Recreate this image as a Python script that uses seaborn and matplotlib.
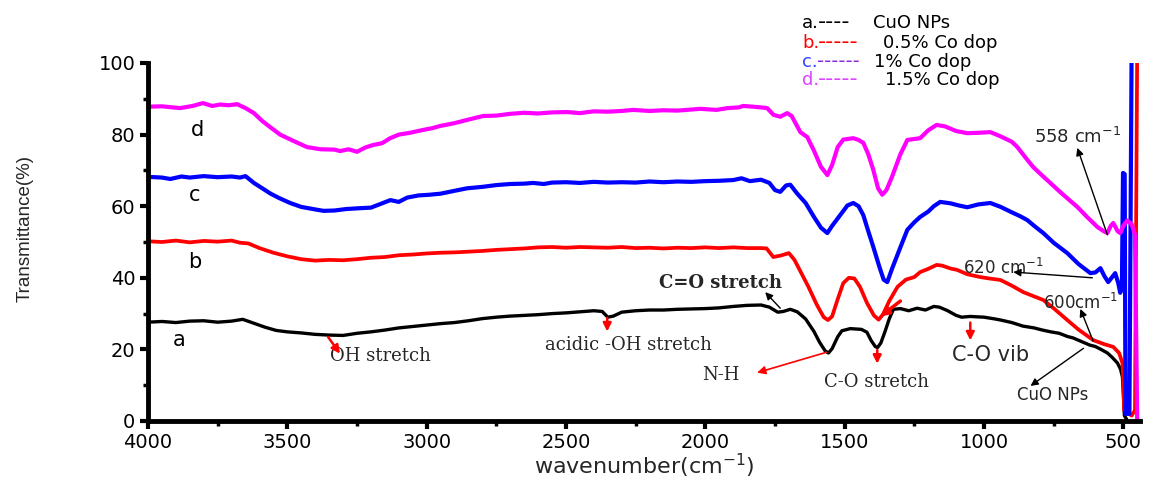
import numpy as np
import pandas as pd
import matplotlib
matplotlib.use("Agg")
import matplotlib.pyplot as plt
from matplotlib.ticker import MultipleLocator
import seaborn as sns

# ---- FTIR spectra: wavenumber (cm-1) and transmittance (%) ----
wn_a = [4000, 3950, 3900, 3850, 3800, 3750, 3700, 3660, 3620, 3580, 3540, 3500, 3450, 3400,
        3350, 3300, 3250, 3200, 3150, 3100, 3050, 3000, 2950, 2900, 2850, 2800, 2750, 2700,
        2650, 2600, 2550, 2500, 2450, 2400, 2370, 2350, 2330, 2300, 2250, 2200, 2150, 2100,
        2050, 2000, 1950, 1900, 1850, 1800, 1770, 1740, 1720, 1695, 1670, 1640, 1610, 1590,
        1570, 1558, 1545, 1525, 1510, 1480, 1440, 1420, 1405, 1390, 1382, 1370, 1355, 1340,
        1325, 1300, 1270, 1240, 1210, 1180, 1160, 1130, 1100, 1080, 1050, 1000, 960, 940,
        900, 860, 820, 790, 760, 730, 700, 680, 650, 620, 600, 580, 557, 540, 521, 510,
        503, 500, 496, 488]
tr_a = [27.6, 27.8, 27.5, 27.9, 28.0, 27.6, 27.9, 28.4, 27.3, 26.2, 25.3, 24.9, 24.6, 24.2,
        24.0, 23.9, 24.5, 24.9, 25.4, 26.0, 26.4, 26.8, 27.2, 27.5, 28.0, 28.6, 29.0, 29.3,
        29.5, 29.7, 30.0, 30.2, 30.5, 30.8, 30.6, 29.0, 29.3, 30.4, 30.8, 31.0, 31.0, 31.2,
        31.3, 31.4, 31.6, 32.0, 32.3, 32.4, 31.8, 30.4, 30.6, 31.2, 30.5, 28.5, 25.0, 22.0,
        19.6, 19.0, 20.2, 23.5, 25.2, 25.8, 25.6, 24.8, 22.5, 20.8, 20.5, 21.8, 25.0, 28.5,
        31.2, 31.4, 30.8, 31.5, 31.0, 32.0, 31.8, 30.8, 29.5, 29.0, 29.2, 29.0, 28.5, 28.2,
        27.5, 26.5, 26.0, 25.4, 24.9, 24.5, 23.6, 23.2, 22.2, 21.2, 20.8, 20.0, 19.0, 17.8,
        16.2, 14.5, 12.3, 7.8, 1.5, 0.5]

wn_b = [4000, 3950, 3900, 3850, 3800, 3750, 3700, 3670, 3640, 3600, 3550, 3500, 3450, 3400,
        3350, 3300, 3250, 3200, 3150, 3100, 3050, 3000, 2950, 2900, 2850, 2800, 2750, 2700,
        2650, 2600, 2550, 2500, 2450, 2400, 2350, 2300, 2250, 2200, 2150, 2100, 2050, 2000,
        1950, 1900, 1850, 1800, 1780, 1756, 1730, 1700, 1680, 1660, 1630, 1600, 1575, 1560,
        1545, 1525, 1505, 1485, 1465, 1445, 1420, 1395, 1378, 1362, 1340, 1310, 1280, 1250,
        1229, 1200, 1170, 1150, 1120, 1096, 1060, 1013, 980, 941, 900, 859, 820, 787, 750,
        701, 660, 608, 570, 536, 515, 503, 500, 497, 470, 458, 450]
tr_b = [50.2, 50.0, 50.4, 49.9, 50.3, 50.1, 50.4, 49.8, 49.6, 48.3, 47.0, 46.0, 45.2, 44.8,
        45.0, 44.9, 45.2, 45.6, 45.8, 46.3, 46.5, 46.8, 47.0, 47.1, 47.3, 47.5, 47.8, 48.0,
        48.2, 48.5, 48.6, 48.4, 48.6, 48.5, 48.4, 48.6, 48.3, 48.4, 48.2, 48.4, 48.3, 48.5,
        48.3, 48.5, 48.3, 48.3, 48.2, 45.8, 46.2, 46.9, 45.0, 42.0, 37.5, 32.5, 29.0, 28.2,
        29.2, 34.0, 38.5, 40.0, 39.8, 37.5, 33.0, 29.5, 28.3, 29.8, 33.5, 37.5, 39.5, 40.2,
        41.6, 42.5, 43.6, 43.4, 42.6, 42.2, 41.0, 40.2, 39.8, 39.4, 37.8, 36.0, 34.8, 33.8, 31.5,
        28.2, 25.5, 22.6, 21.5, 20.7, 19.0, 16.2, 12.0, 3.0, 1.5, 3.0, 105.0]

wn_c = [4000, 3950, 3920, 3880, 3850, 3800, 3750, 3700, 3670, 3650, 3620, 3590, 3560, 3530,
        3490, 3450, 3400, 3370, 3330, 3290, 3250, 3200, 3160, 3130, 3100, 3070, 3030, 2990,
        2950, 2900, 2855, 2800, 2750, 2700, 2650, 2618, 2580, 2550, 2500, 2450, 2400, 2350,
        2300, 2250, 2200, 2150, 2100, 2050, 2000, 1950, 1900, 1870, 1840, 1800, 1770, 1750,
        1731, 1710, 1695, 1670, 1640, 1610, 1585, 1562, 1545, 1516, 1490, 1469, 1450, 1433,
        1415, 1397, 1375, 1360, 1347, 1330, 1300, 1275, 1250, 1229, 1200, 1180, 1157, 1120,
        1090, 1060, 1020, 977, 940, 895, 870, 844, 815, 787, 750, 701, 660, 618, 600, 582,
        568, 554, 540, 529, 518, 511, 505, 501, 495, 492, 478, 470]
tr_c = [68.2, 68.0, 67.6, 68.3, 68.0, 68.4, 68.1, 68.3, 68.0, 68.4, 66.5, 65.0, 63.5, 62.3,
        60.9, 59.8, 59.1, 58.7, 58.8, 59.2, 59.4, 59.6, 60.8, 61.7, 61.2, 62.4, 63.0, 63.2,
        63.5, 64.3, 65.0, 65.4, 65.9, 66.2, 66.3, 66.5, 66.2, 66.6, 66.7, 66.5, 66.8, 66.6,
        66.7, 66.6, 66.9, 66.7, 66.9, 66.8, 67.0, 67.1, 67.3, 67.8, 67.0, 67.4, 66.5, 64.5,
        64.0, 65.8, 66.0, 63.5, 60.9, 57.0, 54.0, 52.5, 54.5, 57.5, 60.2, 60.9, 60.0, 57.5,
        53.0, 48.6, 43.0, 39.5, 38.8, 42.5, 48.5, 53.4, 55.5, 57.0, 58.5, 60.0, 61.2, 60.8,
        60.2, 59.7, 60.5, 60.9, 59.8, 58.1, 57.2, 56.1, 54.2, 52.5, 49.8, 46.9, 43.8, 41.3,
        41.5, 42.7, 40.5, 38.8, 40.2, 41.3, 38.5, 35.8, 37.0, 69.3, 69.0, 2.0, 2.0, 105.0]

wn_d = [4000, 3950, 3885, 3840, 3803, 3770, 3740, 3710, 3680, 3650, 3620, 3590, 3560, 3526,
        3480, 3429, 3380, 3330, 3311, 3280, 3250, 3220, 3192, 3160, 3131, 3100, 3060, 3013,
        2980, 2952, 2900, 2850, 2797, 2750, 2700, 2650, 2600, 2550, 2496, 2450, 2400, 2350,
        2300, 2259, 2200, 2150, 2100, 2050, 2018, 1960, 1920, 1880, 1864, 1830, 1800, 1778,
        1755, 1731, 1706, 1690, 1659, 1634, 1610, 1585, 1562, 1545, 1525, 1505, 1469, 1450,
        1433, 1415, 1397, 1380, 1365, 1350, 1330, 1300, 1275, 1229, 1200, 1170, 1140, 1100,
        1060, 1020, 977, 940, 900, 880, 850, 823, 790, 762, 720, 665, 630, 593, 570, 557,
        545, 536, 520, 511, 500, 486, 470, 458, 450]
tr_d = [87.8, 87.9, 87.4, 88.0, 88.8, 88.0, 88.4, 88.2, 88.5, 87.4, 86.0, 83.8, 82.0, 80.0,
        78.3, 76.5, 75.9, 75.8, 75.4, 75.9, 75.2, 76.4, 77.1, 77.6, 79.0, 80.0, 80.5, 81.3,
        81.8, 82.4, 83.2, 84.2, 85.2, 85.3, 85.8, 86.1, 85.9, 86.2, 86.3, 86.0, 86.5, 86.4,
        86.6, 86.9, 86.6, 86.8, 86.7, 87.0, 87.2, 86.9, 87.4, 87.6, 88.0, 87.8, 87.6, 87.4,
        85.5, 85.0, 86.0, 85.2, 80.7, 79.3, 75.5, 71.0, 68.7, 71.5, 76.5, 78.6, 79.0, 78.5,
        77.7, 74.5, 70.1, 65.0, 63.2, 64.5, 68.2, 74.5, 78.5, 79.0, 81.2, 82.7, 82.3, 81.0,
        80.4, 80.5, 80.7, 79.5, 78.0, 76.5, 73.5, 70.9, 68.5, 66.5, 63.5, 59.8, 57.0, 54.2,
        53.0, 52.5, 54.5, 55.3, 53.0, 52.5, 54.5, 56.0, 55.0, 52.0, 0.0]

x_ticks = [4000, 3500, 3000, 2500, 2000, 1500, 1000, 500]
y_ticks = [0, 20, 40, 60, 80, 100]

W, H = 1149, 479
sns.set_theme(style="ticks")
plt.rcParams["font.family"] = ["DejaVu Sans"]
plt.rcParams["mathtext.default"] = "regular"

fig = plt.figure(figsize=(W / 100, H / 100), dpi=100)
ax = fig.add_axes([148 / W, 1 - 421 / H, (1140 - 148) / W, (421 - 63) / H])

series = [
    (wn_a, tr_a, "black", 2.4),
    (wn_b, tr_b, "#ff0000", 2.7),
    (wn_c, tr_c, "#0000ff", 3.0),
    (wn_d, tr_d, "#ff00ff", 3.0),
]
for wn, tr, col, lw in series:
    df = pd.DataFrame({"wn": wn, "tr": tr})
    sns.lineplot(data=df, x="wn", y="tr", color=col, linewidth=lw, ax=ax,
                 estimator=None, sort=False)

ax.set_xlim(4000, 440)
ax.set_ylim(0, 100)
ax.set_xticks(x_ticks)
ax.set_yticks(y_ticks)
ax.xaxis.set_minor_locator(MultipleLocator(250))
ax.yaxis.set_minor_locator(MultipleLocator(10))
for s in ["top", "right"]:
    ax.spines[s].set_visible(False)
for s in ["left", "bottom"]:
    ax.spines[s].set_linewidth(3.5)
    ax.spines[s].set_color("black")
ax.tick_params(which="major", direction="out", length=6, width=3, labelsize=14,
               colors="black", pad=3)
ax.tick_params(which="minor", direction="out", length=3.5, width=2.5, colors="black")
ax.set_xlabel("wavenumber(cm$^{-1}$)", fontsize=16)
ax.xaxis.set_label_coords(0.5, (421 - 466) / (421 - 63))
ax.xaxis.label.set_va("center")
ax.set_ylabel("Transmittance(%)", fontsize=13.5, family="Liberation Sans")
ax.yaxis.set_label_coords((25 - 148) / (1140 - 148), (421 - 228) / (421 - 63))
ax.yaxis.label.set_va("center")

# curve letters
for lab, (x, y) in zip("abcd", [(3890, 22.6), (3831, 44.4), (3831, 63.0), (3822, 81.3)]):
    ax.text(x, y, lab, fontsize=15, ha="center", va="center", color="black")

serif = "DejaVu Serif"
red_arrow = dict(arrowstyle="-|>", color="red", lw=1.8, mutation_scale=12,
                 shrinkA=0, shrinkB=0)
blk_arrow = dict(arrowstyle="-|>", color="black", lw=1.0, mutation_scale=11,
                 shrinkA=0, shrinkB=0)

# band assignments
ax.text(3347, 18.2, "OH stretch", family=serif, fontsize=13, ha="left", va="center")
ax.annotate("", xy=(3311, 18.8), xytext=(3354, 23.5), arrowprops=red_arrow)

ax.text(2277, 21.2, "acidic -OH stretch", family=serif, fontsize=13, ha="center", va="center")
ax.annotate("", xy=(2352, 25.0), xytext=(2352, 28.8), arrowprops=red_arrow)

ax.text(1947, 38.5, "C=O stretch", family=serif, fontsize=13, weight="bold",
        ha="center", va="center")
ax.annotate("", xy=(1785, 36.0), xytext=(1731, 31.5), arrowprops=blk_arrow)

ax.text(1943, 12.8, "N-H", family=serif, fontsize=13, ha="center", va="center")
ax.annotate("", xy=(1814, 13.5), xytext=(1565, 19.2),
            arrowprops=dict(red_arrow, lw=1.2))

ax.text(1386, 10.9, "C-O stretch", family=serif, fontsize=13, ha="center", va="center")
ax.annotate("", xy=(1383, 16.0), xytext=(1383, 19.8), arrowprops=red_arrow)
ax.annotate("", xy=(1372, 29.2), xytext=(1300, 33.5), arrowprops=dict(red_arrow, lw=2.5))

ax.text(977, 18.4, "C-O vib", fontsize=15, ha="center", va="center")
ax.annotate("", xy=(1049, 22.5), xytext=(1049, 27.5), arrowprops=red_arrow)

ax.text(755, 7.3, "CuO NPs", fontsize=12, ha="center", va="center")
ax.annotate("", xy=(833, 9.8), xytext=(643, 20.3), arrowprops=blk_arrow)

ax.text(654, 33.0, "600cm$^{-1}$", fontsize=12, ha="center", va="center")
ax.annotate("", xy=(654, 31.3), xytext=(608, 22.3), arrowprops=blk_arrow)

ax.text(931, 42.7, "620 cm$^{-1}$", fontsize=12, ha="center", va="center")
ax.annotate("", xy=(895, 41.6), xytext=(611, 40.0), arrowprops=blk_arrow)

ax.text(665, 79.3, "558 cm$^{-1}$", fontsize=13, ha="center", va="center")
ax.annotate("", xy=(665, 76.3), xytext=(557, 52.0), arrowprops=blk_arrow)

# key in the top-right corner
def ftext(px, py, s, color, size=13):
    fig.text(px / W, 1 - py / H, s, color=color, fontsize=size, ha="left",
             va="baseline")

base = [28, 48, 67, 85]
ftext(802, base[0], "a.", "black")
ftext(818, base[0], "----", "black", 16)
ftext(873, base[0], "CuO NPs", "black")
ftext(802, base[1], "b.", "#ff0000")
ftext(818, base[1], "-----", "#ff0000", 16)
ftext(883, base[1], "0.5% Co dop", "black")
ftext(802, base[2], "c.", "#3344ff")
ftext(817, base[2], "------", "#8a2be2", 14)
ftext(874, base[2], "1% Co dop", "black")
ftext(802, base[3], "d.", "#dd44ff")
ftext(818, base[3], "-----", "#dd44ff", 16)
ftext(885, base[3], "1.5% Co dop", "black")

fig.savefig("out.png", dpi=100, facecolor="white")
